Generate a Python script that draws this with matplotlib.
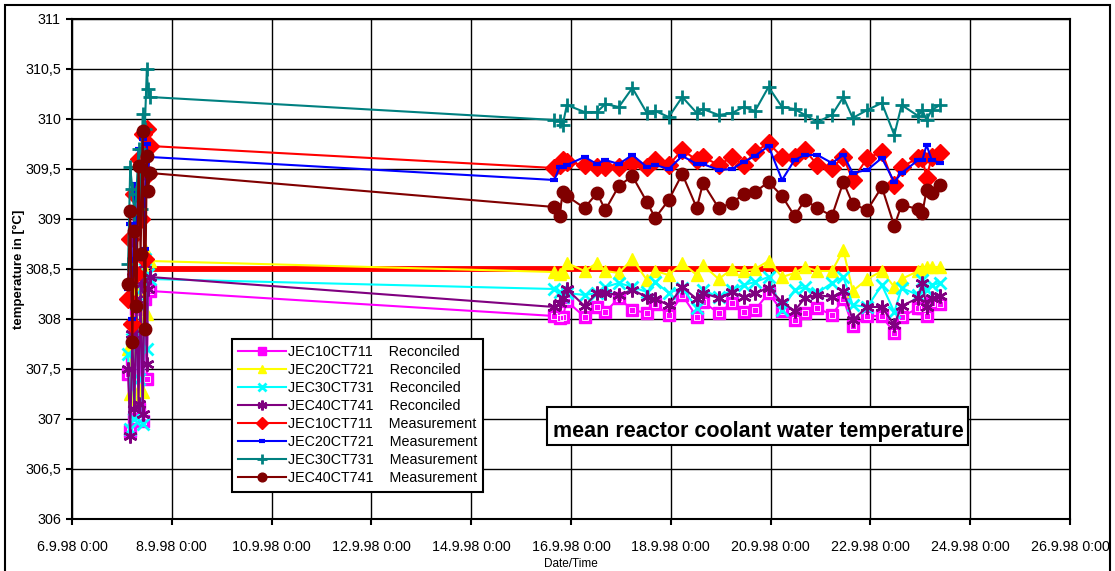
import matplotlib.pyplot as plt
import matplotlib.dates as mdates
import numpy as np
import pandas as pd
from matplotlib.patches import Rectangle
from matplotlib.ticker import FuncFormatter

plt.rcParams['font.family'] = ['Liberation Sans', 'DejaVu Sans']

# start-up phase on 7.9. and operation 15.9. - 23.9.
times_start = ['1998-09-07 03:00', '1998-09-07 04:00', '1998-09-07 05:00', '1998-09-07 06:00',
               '1998-09-07 07:00', '1998-09-07 08:00', '1998-09-07 09:00', '1998-09-07 10:00',
               '1998-09-07 11:00', '1998-09-07 12:00', '1998-09-07 12:30', '1998-09-07 13:30']
times_run = ['1998-09-15 16:00', '1998-09-15 18:30', '1998-09-15 20:00', '1998-09-15 22:00',
             '1998-09-16 06:30', '1998-09-16 12:30', '1998-09-16 16:30', '1998-09-16 23:00',
             '1998-09-17 05:30', '1998-09-17 12:30', '1998-09-17 16:30', '1998-09-17 23:00',
             '1998-09-18 05:30', '1998-09-18 12:30', '1998-09-18 15:30', '1998-09-18 23:00',
             '1998-09-19 05:30', '1998-09-19 11:00', '1998-09-19 16:30', '1998-09-19 23:00',
             '1998-09-20 05:30', '1998-09-20 11:30', '1998-09-20 16:30', '1998-09-20 22:30',
             '1998-09-21 05:30', '1998-09-21 11:00', '1998-09-21 15:30', '1998-09-21 22:30',
             '1998-09-22 05:30', '1998-09-22 11:30', '1998-09-22 15:00', '1998-09-22 23:00',
             '1998-09-23 01:00', '1998-09-23 03:00', '1998-09-23 05:30', '1998-09-23 09:30']

jec10_rec = [307.45, 306.88, 307.60, 307.00, 308.10, 307.10, 307.90, 306.98, 308.20, 307.40, 308.30, 308.28,
             308.03, 308.01, 308.02, 308.18, 308.02, 308.12, 308.07, 308.21, 308.09, 308.06, 308.15, 308.04,
             308.24, 308.02, 308.17, 308.06, 308.16, 308.07, 308.09, 308.26, 308.08, 307.99, 308.06, 308.11,
             308.04, 308.20, 307.93, 308.03, 308.03, 307.86, 308.02, 308.11, 308.11, 308.03, 308.16, 308.15]
jec20_rec = [307.70, 307.25, 308.00, 307.20, 308.30, 307.30, 308.50, 307.27, 308.70, 308.05, 308.60, 308.58,
             308.47, 308.45, 308.47, 308.56, 308.48, 308.56, 308.48, 308.46, 308.60, 308.39, 308.48, 308.44,
             308.56, 308.44, 308.54, 308.40, 308.50, 308.48, 308.50, 308.58, 308.42, 308.46, 308.52, 308.48,
             308.48, 308.69, 308.28, 308.40, 308.48, 308.32, 308.40, 308.48, 308.50, 308.52, 308.52, 308.52]
jec30_rec = [307.65, 306.90, 307.80, 307.00, 308.15, 307.40, 308.30, 306.95, 308.60, 307.70, 308.45, 308.40,
             308.30, 308.27, 308.22, 308.26, 308.24, 308.26, 308.32, 308.36, 308.32, 308.27, 308.37, 308.26,
             308.31, 308.11, 308.29, 308.22, 308.29, 308.34, 308.37, 308.42, 308.09, 308.29, 308.32, 308.26,
             308.36, 308.42, 308.14, 308.12, 308.34, 308.07, 308.31, 308.24, 308.39, 308.29, 308.34, 308.36]
jec40_rec = [307.50, 306.83, 307.85, 307.10, 308.20, 307.15, 308.35, 307.05, 308.55, 307.55, 308.30, 308.42,
             308.12, 308.16, 308.21, 308.30, 308.13, 308.26, 308.26, 308.24, 308.29, 308.22, 308.20, 308.14,
             308.32, 308.20, 308.26, 308.21, 308.27, 308.22, 308.26, 308.31, 308.17, 308.08, 308.21, 308.24,
             308.22, 308.28, 307.99, 308.12, 308.12, 307.94, 308.13, 308.21, 308.36, 308.12, 308.21, 308.23]
jec10_meas = [308.20, 308.80, 307.95, 309.25, 308.45, 309.60, 309.00, 309.85, 308.60, 309.90, 309.45, 309.73,
              309.51, 309.54, 309.59, 309.57, 309.54, 309.52, 309.52, 309.52, 309.56, 309.52, 309.59, 309.54,
              309.69, 309.59, 309.62, 309.54, 309.62, 309.54, 309.67, 309.76, 309.62, 309.62, 309.69, 309.54,
              309.51, 309.62, 309.39, 309.61, 309.67, 309.34, 309.52, 309.61, 309.61, 309.41, 309.62, 309.66]
jec20_meas = [308.30, 308.95, 308.00, 309.35, 308.60, 309.70, 309.10, 309.80, 308.70, 309.75, 309.50, 309.62,
              309.39, 309.52, 309.52, 309.54, 309.62, 309.55, 309.59, 309.55, 309.64, 309.52, 309.54, 309.50,
              309.63, 309.55, 309.55, 309.49, 309.50, 309.57, 309.63, 309.73, 309.39, 309.59, 309.64, 309.64,
              309.56, 309.64, 309.46, 309.49, 309.61, 309.37, 309.46, 309.59, 309.59, 309.74, 309.59, 309.56]
jec30_meas = [308.55, 309.52, 309.30, 309.05, 309.25, 309.70, 309.10, 310.05, 309.90, 310.50, 310.30, 310.22,
              309.99, 309.98, 309.94, 310.14, 310.07, 310.07, 310.15, 310.12, 310.31, 310.06, 310.08, 310.02,
              310.22, 310.06, 310.10, 310.04, 310.06, 310.12, 310.08, 310.32, 310.12, 310.10, 310.04, 309.97,
              310.04, 310.22, 310.01, 310.09, 310.16, 309.84, 310.14, 310.03, 310.09, 309.99, 310.09, 310.14]
jec40_meas = [308.35, 309.08, 307.77, 308.88, 308.13, 309.53, 308.65, 309.88, 307.90, 309.63, 309.28, 309.46,
              309.12, 309.03, 309.27, 309.23, 309.11, 309.26, 309.09, 309.33, 309.43, 309.17, 309.01, 309.19,
              309.45, 309.11, 309.36, 309.11, 309.16, 309.25, 309.27, 309.37, 309.23, 309.03, 309.19, 309.11,
              309.03, 309.37, 309.15, 309.09, 309.32, 308.93, 309.14, 309.10, 309.06, 309.29, 309.26, 309.34]

# nominal value
ref_times = ['1998-09-07 13:30', '1998-09-23 09:30']
ref_vals = [308.5, 308.5]

t = pd.to_datetime(times_start + times_run)

series = [
    (jec10_rec, 'JEC10CT711    Reconciled', '#FF00FF', 's', 8, 1.0),
    (jec20_rec, 'JEC20CT721    Reconciled', '#FFFF00', '^', 9, 1.0),
    (jec30_rec, 'JEC30CT731    Reconciled', '#00FFFF', 'x', 9, 2.0),
    (jec40_rec, 'JEC40CT741    Reconciled', '#800080', (6, 2, 0), 10, 1.8),
    (jec10_meas, 'JEC10CT711    Measurement', '#FF0000', 'D', 9, 1.0),
    (jec20_meas, 'JEC20CT721    Measurement', '#0000FF', '_', 6, 3.0),
    (jec30_meas, 'JEC30CT731    Measurement', '#008080', '+', 10, 2.0),
    (jec40_meas, 'JEC40CT741    Measurement', '#800000', 'o', 9, 1.0),
]

fig = plt.figure(figsize=(11.15, 5.71), dpi=100)
ax = fig.add_axes([72 / 1115, 52 / 571, 998 / 1115, 500 / 571])

ax.plot(pd.to_datetime(ref_times), ref_vals, color='#FF0000', lw=4.2, solid_capstyle='butt')

for vals, label, col, mk, ms, mew in series:
    ax.plot(t, vals, color=col, lw=1.5, marker=mk, ms=ms, mfc=col, mec=col, mew=mew, label=label)
    if mk == 's':
        ax.plot(t, vals, ls='none', marker='s', ms=4, mfc='none', mec='white', mew=0.6)

ax.set_xlim(pd.Timestamp('1998-09-06'), pd.Timestamp('1998-09-26'))
ax.set_ylim(306, 311)
ax.set_xticks(pd.date_range('1998-09-06', '1998-09-26', freq='2D'))
ax.xaxis.set_major_formatter(FuncFormatter(
    lambda v, p: (lambda d: f'{d.day}.{d.month}.{d:%y} {d.hour}:{d:%M}')(mdates.num2date(v))))
ax.set_yticks(np.arange(306, 311.01, 0.5))
ax.yaxis.set_major_formatter(FuncFormatter(lambda v, p: f'{v:g}'.replace('.', ',')))
ax.tick_params(axis='both', direction='out', length=4, width=1.5, labelsize=10.3, colors='black')
ax.tick_params(axis='x', pad=11)
ax.tick_params(axis='y', pad=4)
ax.grid(True, color='black', lw=1.0)
ax.set_axisbelow(True)
for s in ax.spines.values():
    s.set_linewidth(1.5)

ax.set_xlabel('Date/Time', fontsize=8.5, labelpad=3)
ax.set_ylabel('temperature in [°C]', fontsize=9.5, fontweight='bold', labelpad=0)

leg = ax.legend(loc='upper left', bbox_to_anchor=(232 / 1115, 1 - 339 / 571), bbox_transform=fig.transFigure,
                fontsize=10.3, frameon=True, fancybox=False, framealpha=1, edgecolor='black',
                borderpad=0.45, labelspacing=0.28, handlelength=3.3, handletextpad=0.15,
                markerscale=0.7, borderaxespad=0)
leg.get_frame().set_linewidth(1.5)

fig.patches.append(Rectangle((547 / 1115, 1 - 445 / 571), 421 / 1115, 38 / 571, transform=fig.transFigure,
                             facecolor='white', edgecolor='black', lw=1.5, zorder=4))
fig.text(758 / 1115, 1 - 432 / 571, 'mean reactor coolant water temperature', fontsize=15.5,
         fontweight='bold', ha='center', va='center', zorder=5)

fig.patches.append(Rectangle((5 / 1115, -0.05), 1105 / 1115, 1.05 - 5 / 571, transform=fig.transFigure,
                             fill=False, edgecolor='black', lw=1.5, zorder=6))

fig.savefig('out.png', dpi=100)
